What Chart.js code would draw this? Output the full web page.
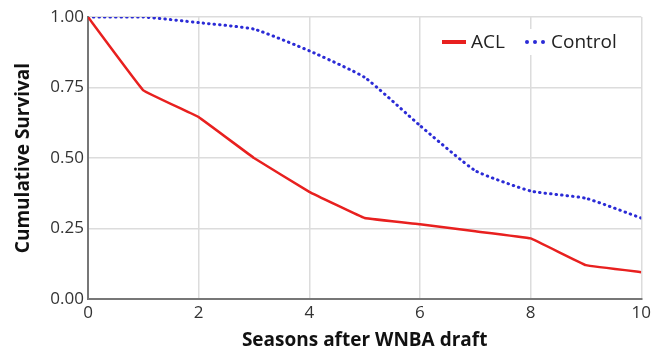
<!DOCTYPE html>
<html>
<head>
<meta charset="utf-8">
<script src="https://cdn.jsdelivr.net/npm/chart.js@4"></script>
<style>
  html, body { margin: 0; padding: 0; background: #fff; }
  #box { width: 655px; height: 356px; }
</style>
</head>
<body>
<div id="box"><canvas id="myChart"></canvas></div>
<script>
const seasons = [0, 1, 2, 3, 4, 5, 6, 7, 8, 9, 10];
const aclSurvival = [1.0, 0.74, 0.645, 0.5, 0.38, 0.287, 0.265, 0.24, 0.215, 0.12, 0.095];
const controlSurvival = [1.0, 1.0, 0.98, 0.957, 0.88, 0.786, 0.615, 0.455, 0.383, 0.357, 0.287];
const xTicks = [0, 2, 4, 6, 8, 10];
const yTicks = [0, 0.25, 0.5, 0.75, 1.0];

const fontFam = "'Open Sans', 'DejaVu Sans', sans-serif";

// legend drawn inside the plot, top right
const insideLegend = {
  id: "insideLegend",
  afterDatasetsDraw(chart) {
    const c = chart.ctx;
    const y = 42;
    c.save();
    c.fillStyle = "#fff";
    c.fillRect(438, 29, 190, 26);
    c.font = "19px " + fontFam;
    c.textBaseline = "middle";
    // ACL
    c.strokeStyle = "#e8201f";
    c.lineWidth = 4;
    c.beginPath();
    c.moveTo(442, y);
    c.lineTo(466, y);
    c.stroke();
    c.fillStyle = "#222";
    c.fillText(chart.data.datasets[0].label, 471, y + 1);
    // Control
    c.fillStyle = "#2b2bd6";
    [527, 535, 543].forEach((px) => {
      c.beginPath();
      c.arc(px, y, 2, 0, Math.PI * 2);
      c.fill();
    });
    c.fillStyle = "#222";
    c.fillText(chart.data.datasets[1].label, 551, y + 1);
    c.restore();
  },
};

const ctx = document.getElementById("myChart").getContext("2d");
let chart = new Chart(ctx, {
  type: "line",
  data: {
    datasets: [
      {
        label: "ACL",
        data: seasons.map((s, i) => ({ x: s, y: aclSurvival[i] })),
        borderColor: "#e8201f",
        borderWidth: 2.5,
        pointRadius: 0,
        tension: 0.05,
      },
      {
        label: "Control",
        data: seasons.map((s, i) => ({ x: s, y: controlSurvival[i] })),
        borderColor: "#2b2bd6",
        borderWidth: 3,
        borderDash: [0.5, 5],
        borderCapStyle: "round",
        pointRadius: 0,
        tension: 0.15,
      },
    ],
  },
  options: {
    responsive: true,
    maintainAspectRatio: false,
    animation: false,
    layout: { padding: { top: 17, right: 10, left: 0, bottom: 0 } },
    plugins: { legend: { display: false }, tooltip: { enabled: false } },
    scales: {
      x: {
        type: "linear",
        min: 0,
        max: 10,
        afterBuildTicks: (axis) => { axis.ticks = xTicks.map((v) => ({ value: v })); },
        afterFit: (axis) => { axis.height = 57; },
        grid: { color: "#dcdcdc", lineWidth: 1.5, drawTicks: false },
        border: { color: "#777", width: 2 },
        ticks: { color: "#333", font: { family: fontFam, size: 17 }, padding: 4 },
        title: {
          display: true,
          text: "Seasons after WNBA draft",
          color: "#111",
          font: { family: fontFam, size: 19, weight: "bold" },
          padding: { top: 11 },
        },
      },
      y: {
        min: 0,
        max: 1,
        afterBuildTicks: (axis) => { axis.ticks = yTicks.map((v) => ({ value: v })); },
        afterFit: (axis) => { axis.width = 88; },
        grid: { color: "#dcdcdc", lineWidth: 1.5, drawTicks: false },
        border: { color: "#777", width: 2 },
        ticks: {
          color: "#333",
          font: { family: fontFam, size: 17 },
          padding: 4,
          callback: (v) => Number(v).toFixed(2),
        },
        title: {
          display: true,
          text: "Cumulative Survival",
          color: "#111",
          font: { family: fontFam, size: 19, weight: "bold" },
          padding: { top: 12, bottom: 0 },
        },
      },
    },
  },
  plugins: [insideLegend],
});
</script>
</body>
</html>
